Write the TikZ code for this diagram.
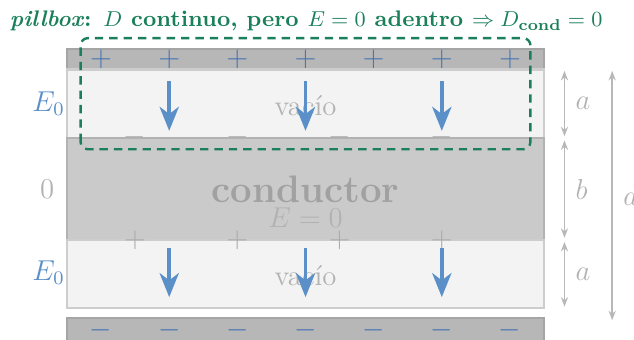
\documentclass[tikz,border=0pt]{standalone}
\usepackage{xcolor}
\usepackage{tikz}
\usepackage{amsmath}
\usepackage{amssymb}
\usetikzlibrary{
  arrows.meta,
  positioning,
  calc
}

\definecolor{fieldblue}{RGB}{91,143,199}
\definecolor{chargeblue}{RGB}{70,115,178}
\definecolor{boxgreen}{RGB}{26,127,90}
\definecolor{plategray}{RGB}{183,183,183}
\definecolor{plateedge}{RGB}{165,165,165}
\definecolor{vacfill}{RGB}{243,243,243}
\definecolor{vacedge}{RGB}{205,205,205}
\definecolor{condfill}{RGB}{202,202,202}
\definecolor{condedge}{RGB}{178,178,178}

\begin{document}
\begin{tikzpicture}[
  plate/.style={fill=plategray, draw=plateedge, line width=0.9pt},
  vacuum/.style={fill=vacfill, draw=vacedge, line width=0.9pt},
  cond/.style={fill=condfill, draw=condedge, line width=0.9pt},
  charge/.style={text=chargeblue, font=\large, inner sep=0pt},
  indcharge/.style={text=black!33, font=\large, inner sep=0pt},
  field/.style={draw=fieldblue, line width=1.6pt, -{Stealth[length=10pt,width=8pt,inset=3pt]}},
  dim/.style={draw=black!28, line width=0.6pt, {Stealth[length=4pt,width=3pt]}-{Stealth[length=4pt,width=3pt]}},
  dimlbl/.style={text=black!30, font=\large, right=1pt},
  pillbox/.style={draw=boxgreen, line width=1pt, dash pattern=on 3.5pt off 2.5pt, rounded corners=3pt}
]
  \useasboundingbox (-0.983,-0.455) rectangle (8.32,4.52);

  % placas y regiones
  \draw[plate] (0,3.5) rectangle (7,3.8);
  \draw[vacuum] (0,2.5) rectangle (7,3.5);
  \draw[cond] (0,1) rectangle (7,2.5);
  \draw[vacuum] (0,0) rectangle (7,1);
  \draw[plate] (0,-0.15) rectangle (7,-0.6);

  % cargas libres en las placas
  \foreach \i in {0,...,6}{
    \node[charge] (top\i) at (\i+0.5, 3.65) {$+$};
    \node[charge] (bot\i) at (\i+0.5, -0.33) {$-$};
  }

  % textos de las regiones
  \node[text=black!30, font=\large] (vacup) at (3.5, 2.97) {vac\'io};
  \node[text=black!30, font=\large] (vacdown) at (3.5, 0.47) {vac\'io};
  \node[text=black!37, font=\fontsize{16}{19}\selectfont\bfseries] (condlbl) at (3.5, 1.74) {conductor};
  \node[text=black!30, font=\large] (condE) at (3.5, 1.33) {$E=0$};

  % cargas inducidas en el conductor
  \foreach \i/\x in {1/1.0, 2/2.5, 3/4.0, 4/5.5}{
    \node[indcharge] (ind\i) at (\x, 2.5) {$-$};
    \node[indcharge] (inp\i) at (\x, 1.0) {$+$};
  }

  % campo en el vacio
  \foreach \x in {1.5, 3.5, 5.5}{
    \draw[field] (\x, 3.33) -- (\x, 2.6);
    \draw[field] (\x, 0.88) -- (\x, 0.16);
  }

  % etiquetas a la izquierda
  \node[text=fieldblue, font=\large] (eup) at (-0.27, 3.0) {$E_0$};
  \node[text=black!30, font=\large] (ezero) at (-0.29, 1.74) {$0$};
  \node[text=fieldblue, font=\large] (edown) at (-0.27, 0.52) {$E_0$};

  % cotas
  \coordinate (a1t) at (7.3, 3.48);
  \coordinate (a1b) at (7.3, 2.52);
  \coordinate (bt) at (7.3, 2.46);
  \coordinate (bb) at (7.3, 1.03);
  \coordinate (a2t) at (7.3, 0.97);
  \coordinate (a2b) at (7.3, 0.02);
  \coordinate (dt) at (8.0, 3.48);
  \coordinate (db) at (8.0, -0.18);
  \draw[dim] (a1t) -- node[dimlbl] (lbla1) {$a$} (a1b);
  \draw[dim] (bt) -- node[dimlbl] (lblb) {$b$} (bb);
  \draw[dim] (a2t) -- node[dimlbl] (lbla2) {$a$} (a2b);
  \draw[dim] (dt) -- node[dimlbl] (lbld) {$d$} (db);

  % pillbox
  \draw[pillbox] (0.2, 2.33) rectangle (6.8, 3.96);
  \node[text=boxgreen, font=\fontsize{9.4}{11}\selectfont] (title) at (3.51, 4.21)
    {\bfseries\textit{pillbox}: $D$ continuo, pero $E=0$ adentro $\Rightarrow D_{\text{cond}}=0$};
\end{tikzpicture}
\end{document}
